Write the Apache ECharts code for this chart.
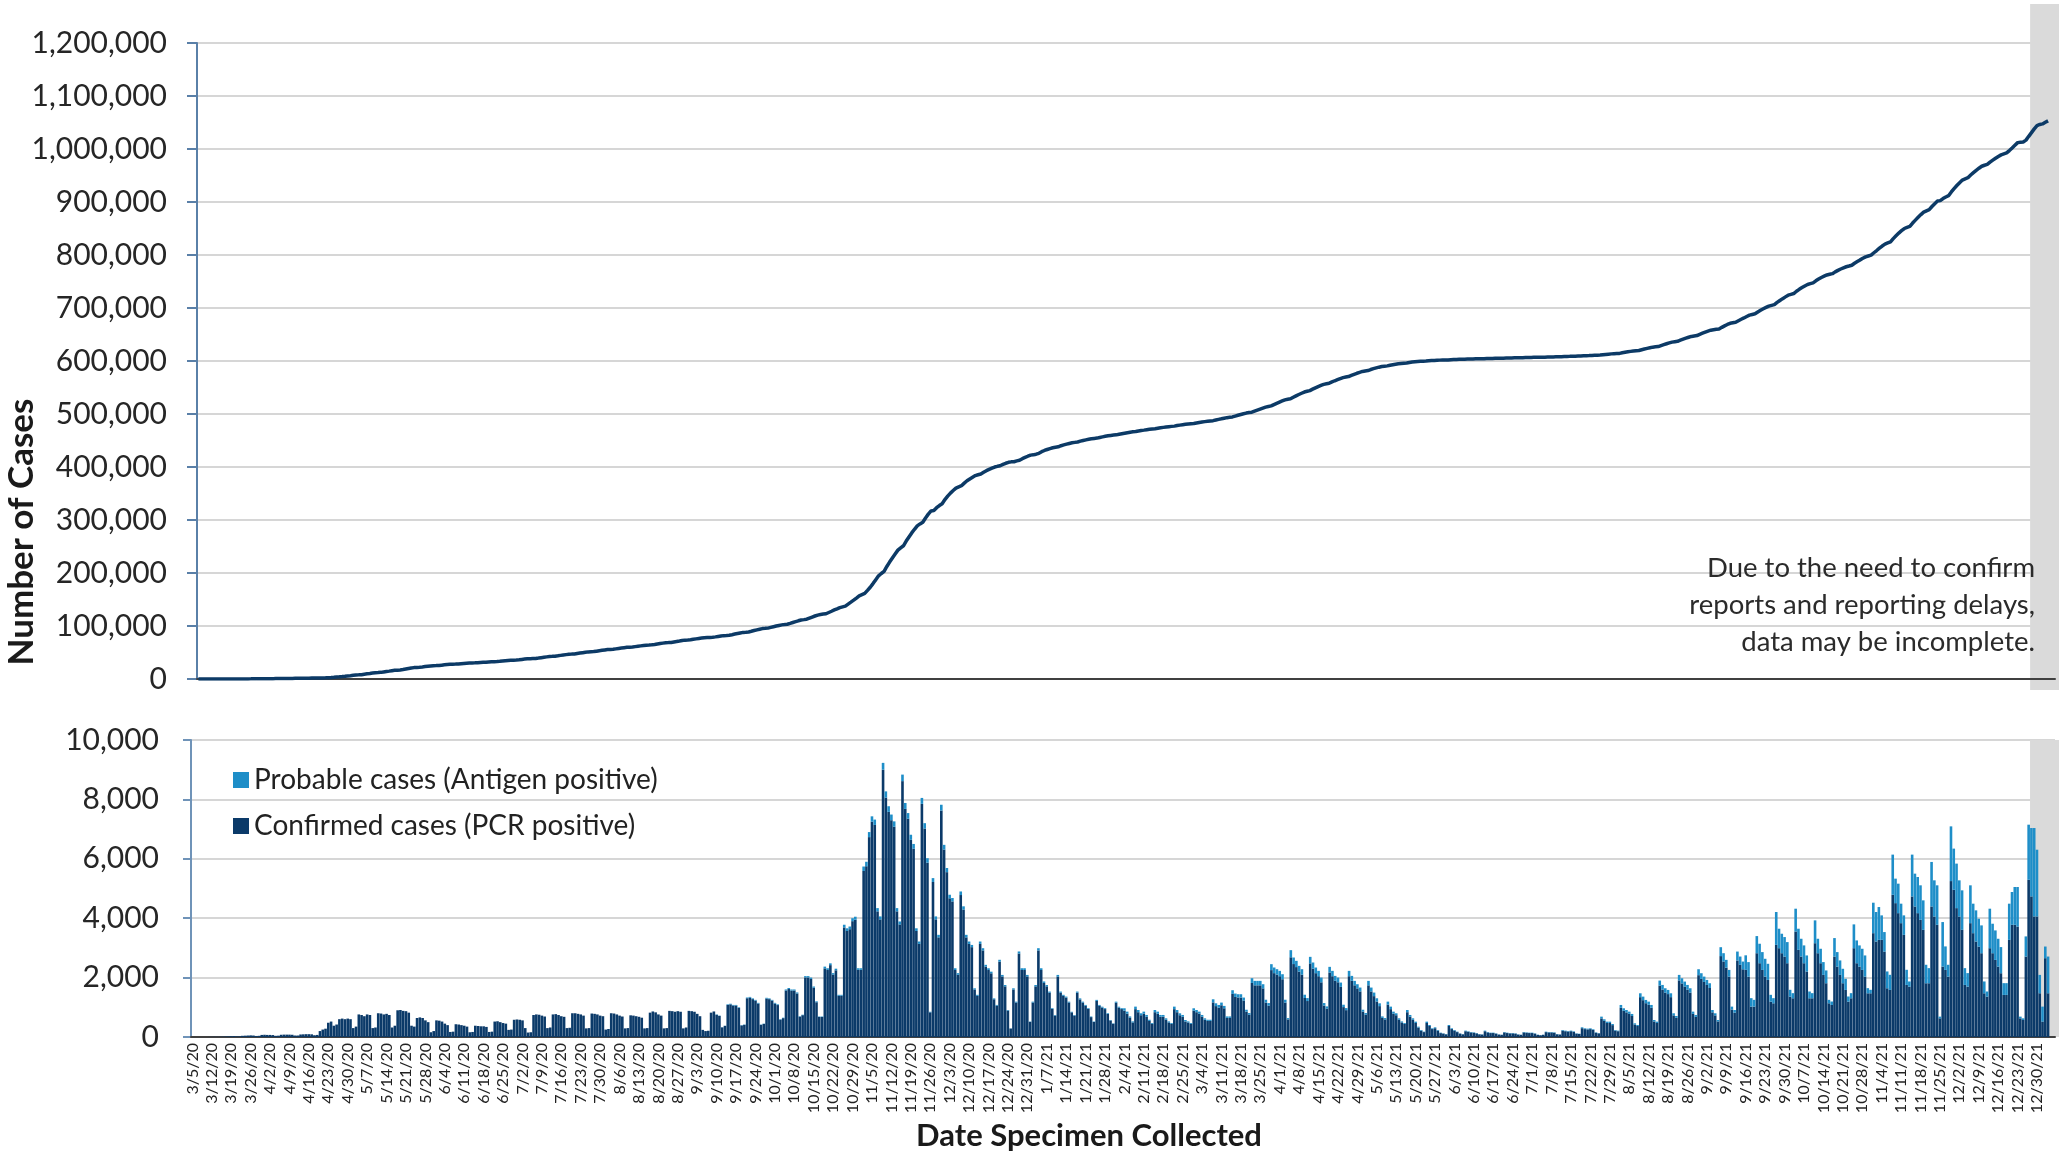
<!DOCTYPE html>
<html>
<head>
<meta charset="utf-8">
<script src="https://cdn.jsdelivr.net/npm/echarts@6/dist/echarts.min.js"></script>
<style>
html,body{margin:0;padding:0;background:#ffffff;}
#chart{width:2059px;height:1151px;}
</style>
</head>
<body>
<div id="chart"></div>
<script>
// ---- categories: daily dates from START for N_DAYS (weekly tick labels every 7th day) ----
const START = [2020, 3, 5];      // 3/5/20
const N_DAYS = 672;              // through 1/5/22
const LABEL_EVERY = 7;
const GREY_START = '12/28/21';   // "data may be incomplete" shading starts here

// ---- Daily confirmed cases (PCR positive), one row per week Thu..Wed ----
const confirmed = [
 0,0,0,0,1,1,2,
 4,6,5,5,10,15,20,
 25,30,20,20,40,45,50,
 55,50,35,40,70,75,70,
 70,65,40,45,75,80,80,
 80,75,50,50,85,90,95,
 95,90,60,70,200,250,280,
 480,520,380,420,600,620,600,
 620,600,300,350,760,740,700,
 760,740,300,320,800,790,760,
 780,740,320,380,900,910,880,
 870,820,380,350,640,660,640,
 560,500,160,200,560,550,520,
 450,400,170,180,430,420,400,
 380,350,160,170,380,370,360,
 360,340,170,180,520,530,500,
 470,450,240,250,580,590,580,
 560,300,150,160,740,760,750,
 720,690,300,320,760,770,740,
 700,680,300,310,800,800,780,
 760,720,290,300,790,780,760,
 720,700,250,270,800,790,760,
 720,690,290,300,730,720,700,
 680,650,290,300,820,860,830,
 760,720,290,300,880,870,850,
 870,850,290,320,880,870,850,
 780,700,240,200,210,820,860,
 750,710,325,375,1080,1100,1060,
 1060,980,390,410,1305,1325,1275,
 1225,1125,410,440,1295,1275,1225,
 1125,1075,585,635,1565,1615,1565,
 1565,1465,685,735,2005,2005,1955,
 1660,1170,675,675,2310,2255,2420,
 2100,2245,1390,1390,3690,3570,3630,
 3900,3950,2260,2260,5590,5750,6730,
 7250,7140,4230,3960,9000,8060,7580,
 7300,7080,4230,3790,8615,7680,7350,
 6640,6340,3570,3135,7850,7020,5870,
 830,5220,3960,3355,7625,6310,5550,
 4670,4565,2255,2095,4780,4290,3355,
 3135,3025,1600,1385,3135,2915,2370,
 2255,2145,1270,1055,2535,2040,1705,
 890,285,1600,1160,2810,2255,2255,
 2040,510,1160,1705,2915,2255,1820,
 1705,1490,945,720,2035,1490,1385,
 1325,1160,830,720,1490,1265,1160,
 1050,945,670,505,1215,1050,990,
 940,775,555,445,1155,990,940,
 887,784,648,490,938,835,733,
 784,682,541,438,835,784,682,
 682,579,490,438,938,835,733,
 682,523,490,438,887,835,784,
 682,579,541,541,1165,1040,989,
 1069,967,643,643,1450,1348,1330,
 1330,1228,853,751,1820,1740,1740,
 1740,1637,1160,1058,2252,2150,2103,
 2047,1944,1160,592,2684,2456,2354,
 2200,2098,1314,1211,2479,2303,2149,
 2047,1842,1058,955,2172,2047,1893,
 1842,1688,1007,904,2047,1893,1740,
 1637,1535,853,751,1740,1535,1376,
 1194,1040,643,592,1091,938,784,
 733,579,490,438,835,682,579,
 472,318,216,165,472,370,267,
 296,216,131,114,91,370,267,
 216,165,114,91,194,176,154,
 142,123,91,82,194,154,133,
 133,113,82,72,154,133,123,
 123,113,82,72,154,143,133,
 133,113,72,61,72,164,154,
 154,143,92,82,215,195,184,
 195,174,113,102,297,266,256,
 266,236,143,123,626,544,472,
 472,400,215,195,984,882,830,
 779,708,421,370,1342,1240,1138,
 1086,984,523,472,1730,1598,1496,
 1445,1342,728,646,1906,1803,1701,
 1598,1496,779,677,2082,1957,1854,
 1752,1650,830,728,523,2724,2542,
 2337,2034,923,820,2577,2429,2280,
 2260,2034,1023,1023,2821,2484,2259,
 2034,1922,1191,1135,3102,2990,2821,
 2709,2484,1360,1304,3552,2934,2709,
 2484,2203,1304,1304,3158,2821,2484,
 2091,1810,1135,1079,2709,2372,2091,
 1810,1585,1191,1304,2990,2484,2372,
 2259,2034,1472,1472,3496,3215,3271,
 3271,2877,1641,1585,4788,4507,4170,
 3833,3439,1753,1697,4732,4395,4170,
 3945,3608,1810,1810,4395,4058,3777,
 629,2372,2259,2034,5250,4957,4339,
 4058,3608,1753,1697,3833,3496,3215,
 3046,2821,1472,1360,2990,2821,2596,
 2372,2147,1416,1416,3271,3777,3777,
 3720,629,573,2709,5294,4732,4058,
 4058,1472,517,2653,1472
];

// ---- Daily probable cases (Antigen positive), one row per week Thu..Wed ----
const probable = [
 0,0,0,0,0,0,0, 0,0,0,0,0,0,0, 0,0,0,0,0,0,0, 0,0,0,0,0,0,0,
 0,0,0,0,0,0,0, 0,0,0,0,0,0,0, 0,0,0,0,0,0,0, 0,0,0,0,0,0,0,
 0,0,0,0,0,0,0, 0,0,0,0,0,0,0, 0,0,0,0,0,0,0, 0,0,0,0,0,0,0,
 0,0,0,0,0,0,0, 0,0,0,0,0,0,0, 0,0,0,0,0,0,0, 0,0,0,0,0,0,0,
 0,0,0,0,0,0,0, 0,0,0,0,0,0,0, 0,0,0,0,0,0,0, 0,0,0,0,0,0,0,
 0,0,0,0,0,0,0, 0,0,0,0,0,0,0, 0,0,0,0,0,0,0, 0,0,0,0,0,0,0,
 0,0,0,0,0,0,0, 0,0,0,0,0,0,0, 0,0,0,0,0,0,0,
 10,10,5,5,20,20,20,
 20,20,10,10,25,25,25,
 25,25,10,10,25,25,25,
 25,25,15,15,35,35,35,
 35,35,15,15,45,45,45,
 40,30,15,15,60,60,60,
 50,55,30,30,90,90,90,
 100,100,55,55,150,150,170,
 180,180,110,100,230,210,190,
 190,180,110,100,220,200,190,
 170,160,90,80,200,180,150,
 20,130,100,85,195,160,140,
 120,115,60,55,120,110,85,
 80,75,40,35,80,75,60,
 60,55,30,25,65,50,45,
 20,5,40,30,70,60,60,
 50,10,30,45,75,60,50,
 45,40,25,20,55,40,35,
 35,30,20,20,40,35,30,
 30,25,20,15,35,30,30,
 30,25,15,15,35,30,30,
 80,70,45,35,85,75,65,
 70,60,40,30,75,70,60,
 60,50,35,30,85,75,65,
 60,50,35,30,80,75,70,
 60,50,40,40,105,95,90,
 90,80,50,50,125,115,110,
 110,100,65,55,160,150,150,
 150,140,95,85,200,190,180,
 180,170,95,45,240,220,210,
 195,185,110,100,220,205,190,
 180,160,85,75,190,180,165,
 160,145,80,70,180,165,150,
 140,130,65,55,150,130,120,
 110,95,50,45,100,85,70,
 65,50,35,30,75,60,50,
 45,30,20,15,45,35,25,
 30,20,15,10,10,35,25,
 20,15,10,10,20,15,15,
 15,12,10,8,20,15,13,
 13,11,8,7,15,13,12,
 12,11,8,7,15,14,13,
 13,11,7,6,7,16,15,
 15,14,9,8,21,19,18,
 19,17,11,10,29,26,25,
 26,23,14,12,60,52,45,
 45,38,21,19,95,85,80,
 75,68,40,35,130,120,110,
 105,95,50,45,170,155,145,
 140,130,70,62,185,175,165,
 155,145,75,65,200,190,180,
 170,160,80,70,50,300,280,
 260,225,100,90,300,280,260,
 490,488,285,228,577,656,600,
 600,543,229,173,1106,656,656,
 656,712,229,172,768,712,599,
 600,543,228,172,769,487,487,
 431,431,116,116,622,487,487,
 487,375,173,172,802,768,712,
 712,712,173,117,1026,993,1105,
 824,656,566,509,1353,825,993,
 656,656,510,173,1409,1105,1218,
 1162,993,622,509,1499,1217,1330,
 57,1498,791,398,1842,1386,1499,
 1217,1330,566,454,1274,993,1049,
 937,937,398,172,1330,993,993,
 936,880,397,397,1218,1105,1274,
 1331,57,56,678,1855,2304,2978,
 2248,619,506,393,1237
];

const topTicks = { min: 0, max: 1200000, interval: 100000 };
const bottomTicks = { min: 0, max: 10000, interval: 2000 };

// ---- built tables ----
const dates = [];
for (let i = 0; i < N_DAYS; i++) {
  const d = new Date(START[0], START[1] - 1, START[2] + i);
  dates.push((d.getMonth() + 1) + '/' + d.getDate() + '/' + String(d.getFullYear()).slice(2));
}
const cumulative = [];
let run = 0;
for (let i = 0; i < confirmed.length; i++) {
  run += confirmed[i] + probable[i];
  cumulative.push(run);
}

const FONT = 'Lato, "Open Sans", sans-serif';
const fmt = v => Number(v).toLocaleString('en-US');
const C_CONF = '#0b3a69';
const C_PROB = '#1e8ec8';

const chart = echarts.init(document.getElementById('chart'), null, { renderer: 'canvas' });

const option = {
  animation: false,
  backgroundColor: '#ffffff',
  grid: [
    { left: 197, right: 4, top: 43, bottom: 1151 - 679 },
    { left: 191, right: 4, top: 740, bottom: 1151 - 1037 }
  ],
  legend: {
    orient: 'vertical',
    left: 228,
    top: 760,
    itemWidth: 16,
    itemHeight: 16,
    itemGap: 16,
    icon: 'rect',
    data: ['Probable cases (Antigen positive)', 'Confirmed cases (PCR positive)'],
    textStyle: { fontFamily: FONT, fontSize: 28, color: '#222222', lineHeight: 30 }
  },
  xAxis: [
    {
      gridIndex: 0, type: 'category', data: dates, boundaryGap: true, z: 3,
      axisLine: { lineStyle: { color: '#404040', width: 2 } },
      axisTick: { interval: LABEL_EVERY - 1, length: 6, lineStyle: { color: '#404040', width: 1.5 } },
      axisLabel: { show: false },
      splitLine: { show: false }
    },
    {
      gridIndex: 1, type: 'category', data: dates, boundaryGap: true, z: 3,
      axisLine: { lineStyle: { color: '#404040', width: 2 } },
      axisTick: { interval: LABEL_EVERY - 1, length: 8, lineStyle: { color: '#404040', width: 1.5 } },
      axisLabel: { interval: LABEL_EVERY - 1, rotate: 90, fontFamily: FONT, fontSize: 16, color: '#222222', margin: 6 },
      splitLine: { show: false }
    }
  ],
  yAxis: [
    {
      gridIndex: 0, type: 'value', min: topTicks.min, max: topTicks.max, interval: topTicks.interval,
      axisLine: { show: true, lineStyle: { color: '#5a80a8', width: 2 } },
      axisTick: { show: true, length: 10, lineStyle: { color: '#5a80a8', width: 2 } },
      axisLabel: { formatter: fmt, fontFamily: FONT, fontSize: 30, color: '#262626', margin: 30 },
      splitLine: { lineStyle: { color: '#d6d6d6', width: 2 } }
    },
    {
      gridIndex: 1, type: 'value', min: bottomTicks.min, max: bottomTicks.max, interval: bottomTicks.interval,
      axisLine: { show: true, lineStyle: { color: '#6f93b8', width: 2 } },
      axisTick: { show: true, length: 8, lineStyle: { color: '#6f93b8', width: 2 } },
      axisLabel: { formatter: fmt, fontFamily: FONT, fontSize: 30, color: '#262626', margin: 32 },
      splitLine: { lineStyle: { color: '#d6d6d6', width: 2 } }
    }
  ],
  series: [
    {
      name: 'Cumulative cases', type: 'line', xAxisIndex: 0, yAxisIndex: 0,
      data: cumulative, showSymbol: false, z: 4,
      lineStyle: { color: '#0c3a66', width: 3.5 }
    },
    {
      name: 'Confirmed cases (PCR positive)', type: 'bar', xAxisIndex: 1, yAxisIndex: 1,
      stack: 'cases', data: confirmed, barCategoryGap: '6%', z: 4,
      itemStyle: { color: C_CONF }
    },
    {
      name: 'Probable cases (Antigen positive)', type: 'bar', xAxisIndex: 1, yAxisIndex: 1,
      stack: 'cases', data: probable, barCategoryGap: '6%', z: 4,
      itemStyle: { color: C_PROB }
    }
  ],
  graphic: [
    {
      type: 'text', x: 22, y: 532, rotation: Math.PI / 2,
      style: { text: 'Number of Cases', font: 'bold 35px ' + FONT, fill: '#1a1a1a', textAlign: 'center', textVerticalAlign: 'middle' }
    },
    {
      type: 'text', x: 1089, y: 1136,
      style: { text: 'Date Specimen Collected', font: 'bold 31px ' + FONT, fill: '#1a1a1a', textAlign: 'center', textVerticalAlign: 'middle' }
    },
    {
      type: 'text', x: 2035, y: 550, z: 10,
      style: { text: 'Due to the need to confirm\nreports and reporting delays,\ndata may be incomplete.', font: '27.5px ' + FONT, fill: '#2b2b2b', textAlign: 'right', textVerticalAlign: 'top', lineHeight: 37 }
    }
  ]
};

chart.setOption(option);

// grey "incomplete data" shading, positioned from the x-axis scale
const i0 = dates.indexOf(GREY_START);
const band = chart.convertToPixel({ xAxisIndex: 1 }, 1) - chart.convertToPixel({ xAxisIndex: 1 }, 0);
const xBottom = chart.convertToPixel({ xAxisIndex: 1 }, i0) - band / 2;
const xTop = chart.convertToPixel({ xAxisIndex: 0 }, i0) - band / 2;
const W = chart.getWidth();
option.graphic.push(
  { type: 'rect', z: 1, shape: { x: xTop, y: 4, width: W - xTop, height: 686 }, style: { fill: '#dadada' } },
  { type: 'rect', z: 1, shape: { x: xBottom, y: 740, width: W - xBottom, height: 297 }, style: { fill: '#dadada' } }
);
chart.setOption({ graphic: option.graphic });
</script>
</body>
</html>
